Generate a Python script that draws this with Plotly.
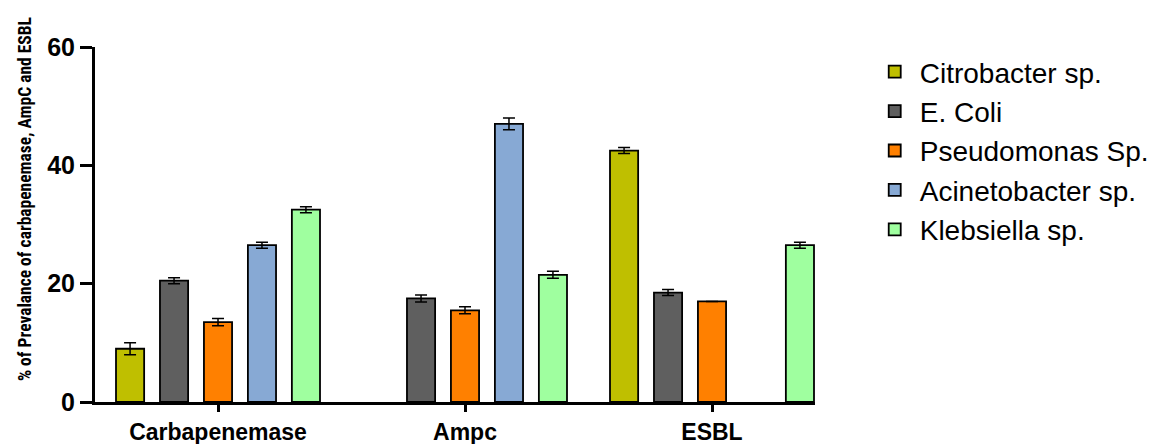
import plotly.graph_objects as go

categories = ["Carbapenemase", "Ampc", "ESBL"]
species = ["Citrobacter sp.", "E. Coli", "Pseudomonas Sp.", "Acinetobacter sp.", "Klebsiella sp."]
citrobacter = [9.0, None, 42.5]
e_coli = [20.5, 17.5, 18.5]
pseudomonas = [13.5, 15.5, 17.0]
acinetobacter = [26.5, 47.0, None]
klebsiella = [32.5, 21.5, 26.5]
citrobacter_err = [1.0, 0, 0.5]
e_coli_err = [0.5, 0.6, 0.5]
pseudomonas_err = [0.6, 0.6, 0]
acinetobacter_err = [0.5, 1.0, 0]
klebsiella_err = [0.5, 0.6, 0.5]
y_ticks = [0, 20, 40, 60]
y_title = "% of Prevalance of carbapenemase, AmpC and ESBL"

values = [citrobacter, e_coli, pseudomonas, acinetobacter, klebsiella]
errors = [citrobacter_err, e_coli_err, pseudomonas_err, acinetobacter_err, klebsiella_err]
colors = ["#BFBF00", "#5F5F5F", "#FF8000", "#87A9D4", "#9FFF9F"]

fig = go.Figure()
for name, vals, errs, col in zip(species, values, errors, colors):
    fig.add_trace(go.Bar(
        x=categories, y=vals, name=name, legendgroup=name,
        marker=dict(color=col, line=dict(color="black", width=1.8)),
        error_y=dict(type="data", array=[e if v is not None and e else 0 for v, e in zip(vals, errs)],
                     color="black", thickness=1.5, width=6, visible=True),
    ))

fig.add_annotation(
    text=y_title, textangle=-90, xref="paper", yref="paper",
    x=-0.097, y=0.572, xanchor="center", yanchor="middle", showarrow=False,
    font=dict(size=17.5, family="Roboto Condensed, Liberation Sans Narrow, Liberation Sans, sans-serif",
              weight="bold", color="black"),
)

fig.update_layout(
    width=1160, height=444,
    margin=dict(l=95, r=345, t=47, b=42, autoexpand=False),
    plot_bgcolor="white", paper_bgcolor="white",
    barmode="group", bargap=0.11, bargroupgap=0.36,
    font=dict(family="Liberation Sans, Arial, sans-serif", color="black"),
    legend=dict(x=1.076, y=1.0, xanchor="left", yanchor="top",
                font=dict(size=28, family="Liberation Sans, Arial, sans-serif"),
                tracegroupgap=0, itemwidth=40, bgcolor="rgba(0,0,0,0)"),
    xaxis=dict(type="category", range=[-0.498, 2.417], showline=True, linecolor="black", linewidth=3,
               ticks="outside", ticklen=7, tickwidth=3, tickcolor="black",
               tickfont=dict(size=23, family="Liberation Sans, Arial, sans-serif", weight="bold"),
               showgrid=False, zeroline=False),
    yaxis=dict(range=[0, 60], tickvals=y_ticks, showline=True, linecolor="black", linewidth=3,
               ticks="outside", ticklen=12, tickwidth=3, tickcolor="black",
               tickfont=dict(size=25, family="Liberation Sans, Arial, sans-serif", weight="bold"),
               showgrid=False, zeroline=False),
)

fig.write_html("out.html")
